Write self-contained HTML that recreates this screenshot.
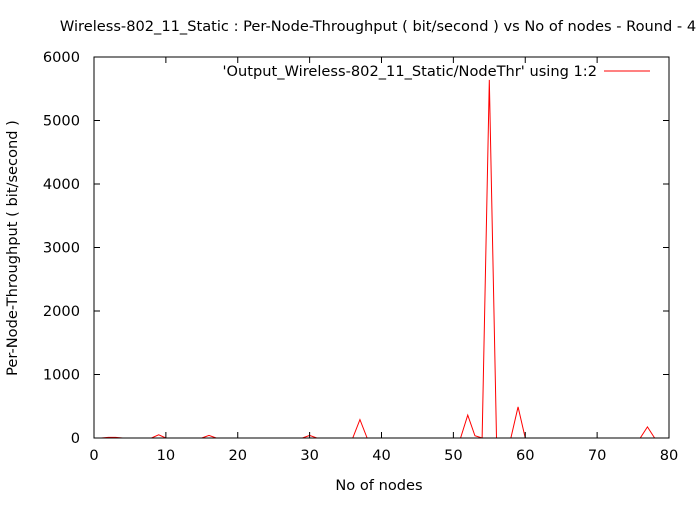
<!DOCTYPE html>
<html><head><meta charset="utf-8"><style>
body{margin:0;background:#fff}
svg text{font-family:"DejaVu Sans","Liberation Sans",sans-serif;font-size:14.6px;fill:#000}
</style></head><body>
<svg id="chart" width="700" height="500">
<rect x="0" y="0" width="700" height="500" fill="#fff"/>
<text x="378" y="31" text-anchor="middle">Wireless-802_11_Static : Per-Node-Throughput ( bit/second ) vs No of nodes - Round - 4</text>
<text x="379" y="490" text-anchor="middle">No of nodes</text>
<text transform="translate(17,248) rotate(-90)" text-anchor="middle">Per-Node-Throughput ( bit/second )</text>
<path id="series" fill="none" stroke="#f00" stroke-width="1"/>
<g id="axes"></g>
<text x="597" y="76" text-anchor="end">'Output_Wireless-802_11_Static/NodeThr' using 1:2</text>
<line x1="604" y1="71" x2="650" y2="71" stroke="#f00"/>
</svg>
<script>
const xTicks=[0,10,20,30,40,50,60,70,80];
const yTicks=[0,1000,2000,3000,4000,5000,6000];
const nodes=[1,2,3,4,5,6,7,8,9,10,11,12,13,14,15,16,17,18,19,20,21,22,23,24,25,26,27,28,29,30,31,32,33,34,35,36,37,38,39,40,41,42,43,44,45,46,47,48,49,50,51,52,53,54,55,56,57,58,59,60,61,62,63,64,65,66,67,68,69,70,71,72,73,74,75,76,77,78];
const throughput=[0,10,10,0,0,0,0,0,50,0,0,0,0,0,0,40,0,0,0,0,0,0,0,0,0,0,0,0,0,40,0,0,0,0,0,0,290,0,0,0,0,0,0,0,0,0,0,0,0,0,0,360,35,0,5640,0,0,0,490,0,0,0,0,0,0,0,0,0,0,0,0,0,0,0,0,0,175,0];
const X0=94,X1=669,Y0=438,Y1=57;
const sx=v=>X0+(v-0)/(80-0)*(X1-X0);
const sy=v=>Y0-(v-0)/(6000-0)*(Y0-Y1);
const NS="http://www.w3.org/2000/svg";
const axes=document.getElementById('axes');
const frame=document.createElementNS(NS,'rect');
frame.setAttribute('x',X0);frame.setAttribute('y',Y1);frame.setAttribute('width',X1-X0);frame.setAttribute('height',Y0-Y1);
frame.setAttribute('fill','none');frame.setAttribute('stroke','#000');


axes.appendChild(frame);
xTicks.forEach(t=>{
  const x=sx(t);
  const l=document.createElementNS(NS,'path');
  l.setAttribute('d',`M${x},${Y0}v-6M${x},${Y1}v6`);l.setAttribute('stroke','#000');
  
  
  axes.appendChild(l);
  const tx=document.createElementNS(NS,'text');
  tx.setAttribute('x',x);tx.setAttribute('y',Y0+22);tx.setAttribute('text-anchor','middle');tx.textContent=t;
  
  
  axes.appendChild(tx);
});
yTicks.forEach(t=>{
  const y=sy(t);
  const l=document.createElementNS(NS,'path');
  l.setAttribute('d',`M${X0},${y}h6M${X1},${y}h-6`);l.setAttribute('stroke','#000');
  
  
  axes.appendChild(l);
  const tx=document.createElementNS(NS,'text');
  tx.setAttribute('x',X0-14);tx.setAttribute('y',y+5);tx.setAttribute('text-anchor','end');tx.textContent=t;
  
  
  axes.appendChild(tx);
});
document.getElementById('series').setAttribute('d',nodes.map((n,i)=>(i?'L':'M')+sx(n)+','+sy(throughput[i])).join(''));
</script>
</body></html>
